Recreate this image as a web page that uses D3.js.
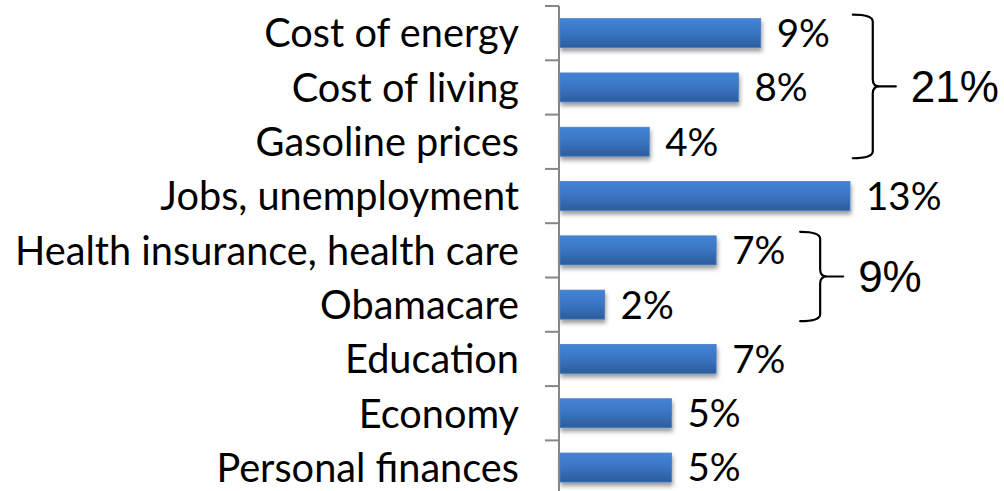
<!DOCTYPE html>
<html>
<head>
<meta charset="utf-8">
<script src="https://cdn.jsdelivr.net/npm/d3@7"></script>
<style>
  html, body { margin: 0; padding: 0; background: #fff; }
  svg { display: block; }
</style>
</head>
<body>
<svg id="chart" width="1004" height="491"></svg>
<script>
// ---- data ----
const categories = ["Cost of energy", "Cost of living", "Gasoline prices", "Jobs, unemployment",
  "Health insurance, health care", "Obamacare", "Education", "Economy", "Personal finances"];
const values = [9, 8, 4, 13, 7, 2, 7, 5, 5];
const groupFirst = ["Cost of energy", "Health insurance, health care"];
const groupLast = ["Gasoline prices", "Obamacare"];
const groupLabels = ["21%", "9%"];

// ---- layout ----
const axisX = 559;
const svg = d3.select("#chart");
const catFont = "Lato, 'Open Sans', sans-serif";

const x = d3.scaleLinear().domain([0, 13]).range([axisX + 1, axisX + 1 + 290]);
const y = d3.scaleBand().domain(categories).range([6, 6 + 9 * 54.3]).padding(0);
const barH = 29;
const barY = d => y(d) + (y.bandwidth() - barH) / 2;

const defs = svg.append("defs");
const grad = defs.append("linearGradient").attr("id", "barGrad")
  .attr("x1", 0).attr("y1", 0).attr("x2", 0).attr("y2", 1);
grad.append("stop").attr("offset", "0%").attr("stop-color", "#4384d6");
grad.append("stop").attr("offset", "45%").attr("stop-color", "#3b76c4");
grad.append("stop").attr("offset", "100%").attr("stop-color", "#2c5c9c");
const filt = defs.append("filter").attr("id", "shadow")
  .attr("x", "-5%").attr("y", "-20%").attr("width", "115%").attr("height", "170%");
filt.append("feDropShadow").attr("dx", 1).attr("dy", 3.5).attr("stdDeviation", 2.2)
  .attr("flood-color", "#000").attr("flood-opacity", 0.4);

// bars
svg.append("g").selectAll("rect").data(categories).join("rect")
  .attr("x", x(0))
  .attr("y", d => barY(d))
  .attr("width", (d, i) => x(values[i]) - x(0))
  .attr("height", barH)
  .attr("fill", "url(#barGrad)")
  .attr("stroke", "#4a7fc4")
  .attr("stroke-width", 0.8)
  .attr("filter", "url(#shadow)");

// axis line + ticks at band boundaries
const axisG = svg.append("g");
axisG.append("line")
  .attr("x1", axisX).attr("x2", axisX)
  .attr("y1", y.range()[0]).attr("y2", y.range()[1])
  .attr("stroke", "#868686").attr("stroke-width", 2);
const bounds = categories.map(c => y(c)).concat([y(categories[categories.length - 1]) + y.step()]);
axisG.selectAll("line.tick").data(bounds).join("line")
  .attr("class", "tick")
  .attr("x1", axisX - 14).attr("x2", axisX)
  .attr("y1", d => d).attr("y2", d => d)
  .attr("stroke", "#868686").attr("stroke-width", 2);

// category labels
const labels = svg.append("g").selectAll("text").data(categories).join("text")
  .attr("x", 519)
  .attr("y", d => y(d) + y.bandwidth() / 2)
  .attr("dy", "0.36em")
  .attr("text-anchor", "end")
  .attr("font-family", catFont)
  .attr("font-size", 40)
  .attr("fill", "#000")
  .text(d => d);
// fit widest label to target width
let maxW = 0;
labels.each(function () { maxW = Math.max(maxW, this.getComputedTextLength()); });
const catSize = 40 * 504 / maxW;
labels.attr("font-size", catSize);

// value labels
const valSize = catSize * 0.97;
svg.append("g").selectAll("text").data(categories).join("text")
  .attr("x", (d, i) => x(values[i]) + 16)
  .attr("y", d => y(d) + y.bandwidth() / 2)
  .attr("dy", "0.36em")
  .attr("font-family", catFont)
  .attr("font-size", valSize)
  .attr("fill", "#000")
  .text((d, i) => values[i] + "%");

// braces
const braceOffsets = [92, 84];
groupFirst.forEach((f, gi) => {
  const l = groupLast[gi];
  const i0 = categories.indexOf(f), i1 = categories.indexOf(l);
  const maxV = d3.max(values.slice(i0, i1 + 1));
  const x0 = x(maxV) + braceOffsets[gi];
  const xv = x0 + 20;
  const xt = xv + 23;
  const y1 = barY(f) - 4;
  const y2 = barY(l) + barH + 2;
  const ym = (y1 + y2) / 2;
  const r = 7;
  const p = d3.path();
  p.moveTo(x0, y1);
  p.quadraticCurveTo(xv, y1, xv, y1 + r);
  p.lineTo(xv, ym - r);
  p.quadraticCurveTo(xv, ym, xv + r, ym);
  p.lineTo(xt, ym);
  p.moveTo(xv + r, ym);
  p.quadraticCurveTo(xv, ym, xv, ym + r);
  p.lineTo(xv, y2 - r);
  p.quadraticCurveTo(xv, y2, x0, y2);
  svg.append("path").attr("d", p.toString())
    .attr("fill", "none").attr("stroke", "#000").attr("stroke-width", 2.2)
    .attr("stroke-linecap", "round");
  svg.append("text")
    .attr("x", xt + 15)
    .attr("y", ym)
    .attr("dy", "0.36em")
    .attr("font-family", "'Liberation Sans', Arial, sans-serif")
    .attr("font-size", 44)
    .attr("fill", "#000")
    .text(groupLabels[gi]);
});
</script>
</body>
</html>
